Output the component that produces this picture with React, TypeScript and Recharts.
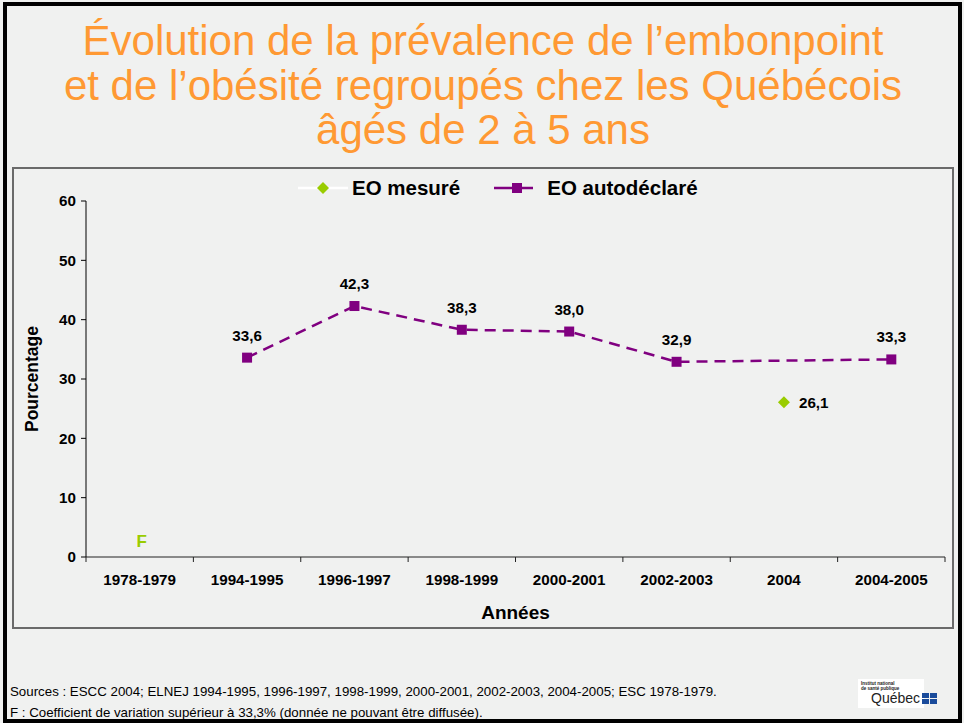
import React from "react";
import { LineChart, Line, XAxis, YAxis, ReferenceDot, LabelList, Label } from "recharts";

const periods = [
  "1978-1979",
  "1994-1995",
  "1996-1997",
  "1998-1999",
  "2000-2001",
  "2002-2003",
  "2004",
  "2004-2005",
];
const eoMesure = [null, null, null, null, null, null, 26.1, null];
const eoAutodeclare = [null, 33.6, 42.3, 38.3, 38.0, 32.9, null, 33.3];
const yTicks = [0, 10, 20, 30, 40, 50, 60];
// période dont la donnée n'est pas diffusable (coefficient de variation > 33,3 %)
const suppressedPeriod = "1978-1979";
const suppressedMark = "F";

const FONT = "'Liberation Sans', Arial, Helvetica, sans-serif";
const PURPLE = "#800080";
const GREEN = "#99CC00";
const ORANGE = "#FF9933";
const BG = "#F0F1F0";

const CHART_W = 942;
const CHART_H = 462;
const PLOT_W = 859;
const STEP = PLOT_W / periods.length;

const data = periods.map((p, i) => ({
  period: p,
  mesure: eoMesure[i],
  autodeclare: eoAutodeclare[i],
}));

const fmt = (v: number | null | undefined) =>
  v == null ? "" : Number(v).toFixed(1).replace(".", ",");

const CategoryTick = (props: any) => {
  const { x, y, payload, index } = props;
  const half = STEP / 2;
  return (
    <g>
      <line x1={x - half} x2={x - half} y1={y} y2={y + 5} stroke="#222" />
      {index === periods.length - 1 && (
        <line x1={x + half} x2={x + half} y1={y} y2={y + 5} stroke="#222" />
      )}
      <text
        x={x}
        y={y + 28}
        textAnchor="middle"
        fontSize={15.2}
        fontWeight="bold"
        fill="#000"
        fontFamily={FONT}
      >
        {payload.value}
      </text>
    </g>
  );
};

const SquareDot = (props: any) => {
  const { cx, cy, index } = props;
  if (cx == null || cy == null) return <g key={`sq-${index}`} />;
  return <rect key={`sq-${index}`} x={cx - 5} y={cy - 5} width={10} height={10} fill={PURPLE} />;
};

const DiamondDot = (props: any) => {
  const { cx, cy, index } = props;
  if (cx == null || cy == null) return <g key={`dm-${index}`} />;
  return (
    <path
      key={`dm-${index}`}
      d={`M${cx},${cy - 6}L${cx + 6},${cy}L${cx},${cy + 6}L${cx - 6},${cy}Z`}
      fill={GREEN}
    />
  );
};

const AboveLabel = (props: any) => {
  const { x, y, value } = props;
  if (value == null || x == null || y == null) return null;
  return (
    <text x={x} y={y - 17} textAnchor="middle" fontSize={15.2} fontWeight="bold" fill="#000" fontFamily={FONT}>
      {fmt(value)}
    </text>
  );
};

const RightLabel = (props: any) => {
  const { x, y, value } = props;
  if (value == null || x == null || y == null) return null;
  return (
    <text x={x + 15} y={y + 5.5} textAnchor="start" fontSize={15.2} fontWeight="bold" fill="#000" fontFamily={FONT}>
      {fmt(value)}
    </text>
  );
};

const Legend = () => (
  <div
    style={{
      position: "absolute",
      left: 298,
      top: 176,
      display: "flex",
      alignItems: "center",
      fontFamily: FONT,
      fontSize: 20.5,
      fontWeight: "bold",
      color: "#000",
      whiteSpace: "nowrap",
    }}
  >
    <svg width={50} height={22}>
      <line x1={0} x2={50} y1={11} y2={11} stroke="#fff" strokeWidth={2.5} />
      <path d="M25,5L31,11L25,17L19,11Z" fill={GREEN} />
    </svg>
    <span style={{ marginLeft: 4 }}>EO mesuré</span>
    <svg width={40} height={22} style={{ marginLeft: 34 }}>
      <line x1={0} x2={39} y1={11} y2={11} stroke={PURPLE} strokeWidth={2.5} />
      <rect x={18} y={6} width={10} height={10} fill={PURPLE} />
    </svg>
    <span style={{ marginLeft: 13 }}>EO autodéclaré</span>
  </div>
);

const Logo = () => (
  <div
    style={{
      position: "absolute",
      left: 858,
      top: 679,
      width: 66,
      height: 29,
      background: "#fff",
      fontFamily: FONT,
      color: "#222",
    }}
  >
    <div style={{ position: "absolute", left: 3, top: 2, fontSize: 4.5, lineHeight: "5px", fontWeight: "bold" }}>
      Institut national
      <br />
      de santé publique
    </div>
    <div style={{ position: "absolute", left: 13, top: 12, fontSize: 14, lineHeight: "15px", display: "flex", alignItems: "center" }}>
      Québec
      <svg width={16} height={11} style={{ marginLeft: 2 }}>
        <rect x={0} y={0} width={7} height={5} fill="#1a4b9b" />
        <rect x={8} y={0} width={7} height={5} fill="#1a4b9b" />
        <rect x={0} y={6} width={7} height={5} fill="#1a4b9b" />
        <rect x={8} y={6} width={7} height={5} fill="#1a4b9b" />
      </svg>
    </div>
  </div>
);

export default function App() {
  return (
    <div
      style={{
        position: "absolute",
        left: 0,
        top: 0,
        width: 964,
        height: 723,
        background: BG,
        overflow: "hidden",
        fontFamily: FONT,
      }}
    >
      <div
        style={{
          position: "absolute",
          left: 3,
          top: 2,
          width: 959,
          height: 721,
          border: "4px solid #000",
          boxSizing: "border-box",
        }}
      />
      <div
        style={{
          position: "absolute",
          left: 0,
          width: 966,
          top: 19,
          textAlign: "center",
          color: ORANGE,
          fontSize: 42,
          lineHeight: "44.5px",
        }}
      >
        Évolution de la prévalence de l’embonpoint
        <br />
        et de l’obésité regroupés chez les Québécois
        <br />
        âgés de 2 à 5 ans
      </div>
      <div
        style={{
          position: "absolute",
          left: 12,
          top: 167,
          width: CHART_W,
          height: CHART_H,
          border: "2px solid #6a6a6a",
          boxSizing: "border-box",
        }}
      />
      <div style={{ position: "absolute", left: 12, top: 167 }}>
        <LineChart
          width={CHART_W}
          height={CHART_H}
          data={data}
          margin={{ top: 34, right: CHART_W - 74 - PLOT_W, left: 14, bottom: 0 }}
        >
          <XAxis
            dataKey="period"
            type="category"
            interval={0}
            height={72}
            padding={{ left: STEP / 2, right: STEP / 2 }}
            tickLine={false}
            tickSize={0}
            tickMargin={0}
            axisLine={{ stroke: "#222" }}
            tick={<CategoryTick />}
          >
            <Label
              content={(p: any) => {
                const vb = p.viewBox || {};
                return (
                  <text
                    x={vb.x + vb.width / 2}
                    y={vb.y + 62}
                    textAnchor="middle"
                    fontSize={19}
                    fontWeight="bold"
                    fill="#000"
                    fontFamily={FONT}
                  >
                    Années
                  </text>
                );
              }}
            />
          </XAxis>
          <YAxis
            type="number"
            domain={[0, 60]}
            ticks={yTicks}
            width={60}
            tickSize={5}
            tickMargin={5}
            tickLine={{ stroke: "#000" }}
            axisLine={{ stroke: "#000" }}
            tick={{ fontSize: 15.2, fontWeight: "bold", fill: "#000", fontFamily: FONT }}
          >
            <Label
              content={(p: any) => {
                const vb = p.viewBox || {};
                const cx = vb.x + 6;
                const cy = vb.y + vb.height / 2;
                return (
                  <text
                    x={cx}
                    y={cy}
                    transform={`rotate(-90, ${cx}, ${cy})`}
                    textAnchor="middle"
                    dominantBaseline="central"
                    fontSize={17.5}
                    fontWeight="bold"
                    fill="#000"
                    fontFamily={FONT}
                  >
                    Pourcentage
                  </text>
                );
              }}
            />
          </YAxis>
          <Line
            dataKey="autodeclare"
            name="EO autodéclaré"
            stroke={PURPLE}
            strokeWidth={2.5}
            strokeDasharray="11 7"
            connectNulls
            dot={<SquareDot />}
            activeDot={false}
            isAnimationActive={false}
          >
            <LabelList dataKey="autodeclare" content={<AboveLabel />} />
          </Line>
          <Line
            dataKey="mesure"
            name="EO mesuré"
            stroke="#fff"
            strokeWidth={2.5}
            dot={<DiamondDot />}
            activeDot={false}
            isAnimationActive={false}
          >
            <LabelList dataKey="mesure" content={<RightLabel />} />
          </Line>
          <ReferenceDot
            x={suppressedPeriod}
            y={0}
            r={0}
            fill="none"
            stroke="none"
            label={{
              content: (p: any) => {
                const vb = p.viewBox || {};
                return (
                  <text
                    x={vb.x + 2}
                    y={vb.y - 10}
                    textAnchor="middle"
                    fontSize={17}
                    fontWeight="bold"
                    fill={GREEN}
                    fontFamily={FONT}
                  >
                    {suppressedMark}
                  </text>
                );
              },
            }}
          />
        </LineChart>
      </div>
      <Legend />
      <div
        style={{
          position: "absolute",
          left: 10,
          top: 682,
          fontSize: 13.3,
          lineHeight: "20.5px",
          color: "#000",
          whiteSpace: "nowrap",
        }}
      >
        Sources : ESCC 2004; ELNEJ 1994-1995, 1996-1997, 1998-1999, 2000-2001, 2002-2003, 2004-2005; ESC 1978-1979.
        <br />
        F : Coefficient de variation supérieur à 33,3% (donnée ne pouvant être diffusée).
      </div>
      <Logo />
    </div>
  );
}
